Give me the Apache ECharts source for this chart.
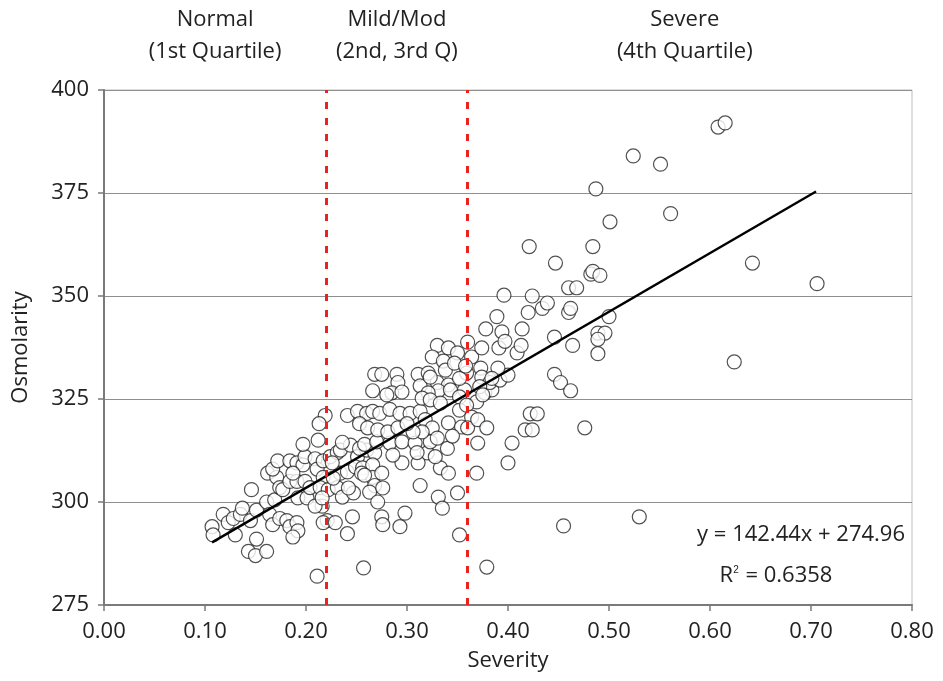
<!DOCTYPE html>
<html>
<head>
<meta charset="utf-8">
<script src="https://cdn.jsdelivr.net/npm/echarts@6/dist/echarts.min.js"></script>
<style>
  html, body { margin: 0; padding: 0; background: #fff; }
  #chart { width: 943px; height: 681px; }
</style>
</head>
<body>
<div id="chart"></div>
<script>
// Severity (x) and osmolarity (y) of each subject
var severity = [
  0.107, 0.108, 0.118, 0.123, 0.128, 0.130, 0.135, 0.137, 0.145, 0.146,
  0.151, 0.143, 0.150, 0.151, 0.161, 0.161, 0.169, 0.164, 0.167, 0.174,
  0.181, 0.184, 0.191, 0.192, 0.187, 0.162, 0.171, 0.167, 0.174, 0.177,
  0.184, 0.191, 0.192, 0.201, 0.172, 0.184, 0.191, 0.197, 0.199, 0.209,
  0.187, 0.199, 0.204, 0.211, 0.217, 0.214, 0.217, 0.224, 0.231, 0.197,
  0.212, 0.216, 0.221, 0.217, 0.229, 0.209, 0.222, 0.231, 0.211, 0.219,
  0.213, 0.241, 0.251, 0.268, 0.266, 0.234, 0.244, 0.251, 0.260, 0.268,
  0.234, 0.241, 0.249, 0.256, 0.266, 0.216, 0.236, 0.247, 0.266, 0.268,
  0.246, 0.241, 0.257, 0.236, 0.226, 0.227, 0.242, 0.253, 0.258, 0.270,
  0.283, 0.295, 0.308, 0.320, 0.323, 0.311, 0.295, 0.286, 0.275, 0.255,
  0.263, 0.271, 0.276, 0.258, 0.313, 0.333, 0.341, 0.331, 0.335, 0.350,
  0.275, 0.276, 0.293, 0.298, 0.352, 0.379, 0.260, 0.266, 0.273, 0.283,
  0.293, 0.303, 0.313, 0.318, 0.325, 0.315, 0.306, 0.253, 0.261, 0.271,
  0.281, 0.291, 0.300, 0.310, 0.275, 0.290, 0.291, 0.311, 0.321, 0.313,
  0.330, 0.341, 0.331, 0.321, 0.285, 0.280, 0.295, 0.315, 0.323, 0.333,
  0.357, 0.352, 0.369, 0.377, 0.384, 0.323, 0.343, 0.352, 0.359, 0.364,
  0.341, 0.354, 0.360, 0.370, 0.379, 0.370, 0.404, 0.400, 0.369, 0.330,
  0.341, 0.325, 0.336, 0.350, 0.360, 0.364, 0.374, 0.338, 0.347, 0.359,
  0.352, 0.373, 0.374, 0.382, 0.392, 0.400, 0.372, 0.358, 0.390, 0.446,
  0.452, 0.462, 0.375, 0.422, 0.429, 0.417, 0.424, 0.476, 0.455, 0.530,
  0.378, 0.389, 0.394, 0.391, 0.397, 0.409, 0.414, 0.413, 0.396, 0.424,
  0.420, 0.434, 0.439, 0.460, 0.462, 0.500, 0.446, 0.489, 0.496, 0.489,
  0.464, 0.489, 0.624, 0.460, 0.468, 0.706, 0.482, 0.484, 0.491, 0.447,
  0.642, 0.421, 0.484, 0.501, 0.561, 0.487, 0.524, 0.551, 0.608, 0.615,
  0.384, 0.330, 0.340, 0.345, 0.328
]
var osmolarity = [
  294, 292, 297, 295, 296, 292, 297, 298.5, 295.5, 303,
  298, 288, 287, 291, 288, 300, 300.5, 297, 294.5, 296,
  295.5, 294, 295, 293, 291.5, 307, 306, 308, 303.5, 303,
  305, 305, 301, 301, 310, 310, 309.5, 309, 311, 310.5,
  307, 305, 303.5, 308, 306, 303.5, 310, 311, 312, 314,
  315, 299, 295.5, 295, 295, 299, 303, 303.5, 282, 321,
  319, 321, 322, 331, 327, 312.6, 313.8, 311, 312.6, 311.9,
  307, 307.3, 308.5, 308.3, 309, 301, 301.2, 302.2, 306, 304,
  296.4, 292.3, 284, 314.5, 309.5, 305.8, 303.4, 313, 314, 314.6,
  314.3, 314.6, 314.3, 311.9, 314.6, 309.5, 309.5, 311.4, 307, 307,
  302.4, 300, 303.4, 306.5, 304, 308.3, 307, 301.2, 298.5, 302.2,
  296.4, 294.5, 294, 297.3, 292, 284.2, 321.5, 322, 321.5, 322.5,
  321.5, 321.5, 322, 320, 318, 317, 317, 319, 318, 317.5,
  317, 318, 319, 312, 331, 331, 329, 331, 331.3, 328.2,
  329, 328.4, 327, 326.5, 326.5, 326, 326.7, 325.2, 324.8, 324,
  327.2, 322.3, 324.3, 326.5, 327.2, 330.3, 327.2, 325.5, 323.5, 320.6,
  319.2, 318.2, 318, 320, 318, 314.3, 314.3, 309.5, 307, 338,
  337.4, 335.2, 334.2, 336.2, 338.8, 335.2, 337.4, 332, 333.7, 331.3,
  330, 332.5, 330.3, 329, 329.6, 330.8, 328, 333, 332.5, 331,
  329, 327, 326, 321.4, 321.4, 317.5, 317.5, 318, 294.2, 296.4,
  342, 345, 341.3, 337.4, 339, 336.2, 342, 338, 350.2, 350,
  346, 347, 348.3, 346, 347, 345, 340, 341, 341, 339.5,
  338, 336, 334, 352, 352, 353, 355.3, 356, 355, 358,
  358, 362, 362, 368, 370, 376, 384, 382, 391, 392,
  330, 315.5, 313, 316, 311
]

// Linear fit printed on the chart
var trendSlope = 142.44
var trendIntercept = 274.96
var trendRange = [0.107, 0.705]

// Quartile cut-offs (red dashed lines) and header labels
var quartileCuts = [0.22, 0.36]
var groupNames = ['Normal', 'Mild/Mod', 'Severe']
var groupSubs = ['(1st Quartile)', '(2nd, 3rd Q)', '(4th Quartile)']
var groupCenters = [0.11, 0.29, 0.575]

var font = 'Open Sans'
var fs = 22
var points = severity.map(function (s, i) { return [s, osmolarity[i]] })
var trendLine = trendRange.map(function (x) { return [x, trendSlope * x + trendIntercept] })

var mycharts = echarts.init(document.getElementById('chart'))
var option = {
  animation: false,
  textStyle: { fontFamily: font },
  grid: {
    left: 104, right: 31, top: 90, bottom: 76,
    show: true, borderColor: '#bdbdbd', borderWidth: 1
  },
  xAxis: {
    type: 'value',
    min: 0, max: 0.8, interval: 0.1,
    name: 'Severity',
    nameLocation: 'middle',
    nameGap: 45,
    nameTextStyle: { fontSize: fs, color: '#222', fontFamily: font },
    axisLine: { show: true, lineStyle: { color: '#7a7a7a', width: 2 } },
    axisTick: { show: true, length: 6, lineStyle: { color: '#7a7a7a', width: 1.5 } },
    axisLabel: {
      fontSize: fs, color: '#222', margin: 16,
      formatter: function (v) { return v.toFixed(2) }
    },
    splitLine: { show: false }
  },
  yAxis: {
    type: 'value',
    min: 275, max: 400, interval: 25,
    name: 'Osmolarity',
    nameLocation: 'middle',
    nameGap: 72,
    nameRotate: 90,
    nameTextStyle: { fontSize: fs, color: '#222', fontFamily: font },
    axisLine: { show: true, lineStyle: { color: '#7a7a7a', width: 2 } },
    axisTick: { show: true, length: 6, lineStyle: { color: '#7a7a7a', width: 1.5 } },
    axisLabel: { fontSize: fs, color: '#222', margin: 15 },
    splitLine: { show: true, lineStyle: { color: '#8f8f8f', width: 1 } }
  },
  series: [
    {
      type: 'line',
      data: [],
      z: 1,
      markLine: {
        silent: true,
        symbol: 'none',
        label: { show: false },
        lineStyle: { color: '#e8241f', width: 3, type: [7, 9] },
        data: quartileCuts.map(function (c) { return { xAxis: c } })
      }
    },
    {
      type: 'scatter',
      data: points,
      z: 2,
      symbol: 'circle',
      symbolSize: 14,
      itemStyle: { color: '#fff', borderColor: '#262626', borderWidth: 1.2 }
    },
    {
      type: 'line',
      data: trendLine,
      z: 3,
      symbol: 'none',
      lineStyle: { color: '#000', width: 2.4 }
    }
  ]
}
mycharts.setOption(option)

// header labels above each severity group, placed from the axis scale
var headers = []
groupCenters.forEach(function (c, i) {
  var px = mycharts.convertToPixel({ xAxisIndex: 0 }, c)
  headers.push({
    type: 'text', x: px, y: 9,
    style: { text: groupNames[i], font: fs + 'px ' + font, fill: '#222', align: 'center' }
  })
  headers.push({
    type: 'text', x: px, y: 41,
    style: { text: groupSubs[i], font: fs + 'px ' + font, fill: '#222', align: 'center' }
  })
})
headers.push({
  type: 'text', x: 905, y: 524,
  style: { text: 'y = 142.44x + 274.96', font: fs + 'px ' + font, fill: '#222', align: 'right' }
})
headers.push({
  type: 'text', x: 776, y: 565,
  style: {
    text: 'R{sup|2} = 0.6358',
    font: fs + 'px ' + font, fill: '#222', align: 'center',
    rich: { sup: { fontSize: 10, verticalAlign: 'top', padding: [0, 1, 9, 0] } }
  }
})
mycharts.setOption({ graphic: headers })
</script>
</body>
</html>
